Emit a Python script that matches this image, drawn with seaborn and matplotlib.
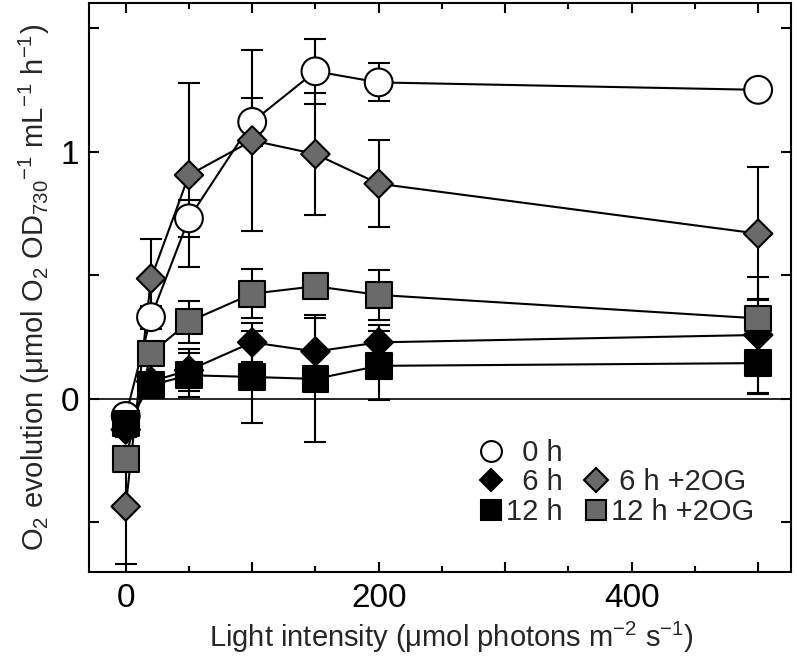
import numpy as np
import pandas as pd
import matplotlib
matplotlib.use('Agg')
import matplotlib.pyplot as plt
from matplotlib.lines import Line2D
from matplotlib.ticker import MultipleLocator, FuncFormatter
import seaborn as sns

# light intensity (umol photons m-2 s-1)
light = [0, 20, 50, 100, 150, 200, 500]

# O2 evolution, mean and error for each condition
o2_0h = [-0.07, 0.33, 0.73, 1.12, 1.325, 1.28, 1.25]
sd_0h = [0.02, 0.047, 0.076, 0.097, 0.132, 0.077, 0.02]
o2_6h = [-0.125, 0.07, 0.115, 0.228, 0.191, 0.228, 0.258]
sd_6h = [0.03, 0.03, 0.085, 0.08, 0.135, 0.07, 0.235]
o2_12h = [-0.10, 0.055, 0.095, 0.088, 0.08, 0.133, 0.144]
sd_12h = [0.03, 0.04, 0.09, 0.187, 0.257, 0.14, 0.125]
o2_6h_og = [-0.436, 0.486, 0.905, 1.045, 0.99, 0.87, 0.668]
sd_6h_og = [0.232, 0.162, 0.373, 0.365, 0.248, 0.175, 0.27]
o2_12h_og = [-0.244, 0.183, 0.312, 0.425, 0.455, 0.42, 0.325]
sd_12h_og = [0.03, 0.03, 0.085, 0.1, 0.03, 0.1, 0.08]

series_names = ['0 h', '6 h', '12 h', '6 h +2OG', '12 h +2OG']
series_vals = [o2_0h, o2_6h, o2_12h, o2_6h_og, o2_12h_og]
series_err = [sd_0h, sd_6h, sd_12h, sd_6h_og, sd_12h_og]

GRAY = '#6a6a6a'
face = {'0 h': 'white', '6 h': 'black', '12 h': 'black',
        '6 h +2OG': GRAY, '12 h +2OG': GRAY}
marker = {'0 h': 'o', '6 h': 'D', '12 h': 's', '6 h +2OG': 'D', '12 h +2OG': 's'}
msize = {'0 h': 20 ** 2, '6 h': 14.5 ** 2, '12 h': 18.5 ** 2,
         '6 h +2OG': 14.5 ** 2, '12 h +2OG': 18.5 ** 2}

rows = []
for name, vals, errs in zip(series_names, series_vals, series_err):
    for x, y, e in zip(light, vals, errs):
        rows.append({'light': x, 'o2': y, 'err': e, 'series': name})
df = pd.DataFrame(rows)

sns.set_theme(style='ticks')
plt.rcParams['font.family'] = ['Liberation Sans', 'DejaVu Sans']
plt.rcParams['mathtext.fontset'] = 'custom'
plt.rcParams['mathtext.rm'] = 'Liberation Sans'
plt.rcParams['mathtext.it'] = 'Liberation Sans:italic'
plt.rcParams['mathtext.default'] = 'regular'

fig = plt.figure(figsize=(7.97, 6.68), dpi=100)
ax = fig.add_axes([0.1117, 0.1442, 0.9925 - 0.1117, 0.995 - 0.1442])

ax.axhline(0, color='black', lw=1.2, zorder=1)

# connecting lines
sns.lineplot(data=df, x='light', y='o2', units='series', estimator=None,
             color='black', lw=1.5, sort=False, legend=False, ax=ax, zorder=2)

# error bars
for name in series_names:
    d = df[df['series'] == name]
    ax.errorbar(d['light'], d['o2'], yerr=d['err'], fmt='none', ecolor='black',
                elinewidth=1.5, capsize=8, capthick=1.5, zorder=3)

# markers
sns.scatterplot(data=df, x='light', y='o2', hue='series', style='series',
                size='series', hue_order=series_names, style_order=series_names,
                size_order=series_names, palette=face, markers=marker,
                sizes=msize, edgecolor='black', linewidth=1.5, legend=False,
                ax=ax, zorder=4)

ax.set_xlim(-29, 526)
ax.set_ylim(-0.7, 1.6)

ax.xaxis.set_major_locator(MultipleLocator(100))
ax.xaxis.set_minor_locator(MultipleLocator(50))
ax.xaxis.set_major_formatter(FuncFormatter(lambda v, p: f'{v:.0f}' if round(v) % 200 == 0 else ''))
ax.yaxis.set_major_locator(MultipleLocator(0.5))
ax.yaxis.set_major_formatter(FuncFormatter(lambda v, p: f'{v:.0f}' if abs(v - round(v)) < 1e-6 else ''))

ax.tick_params(axis='both', which='both', direction='in', top=True, right=True,
               width=1.5, colors='black', labelsize=24)
ax.tick_params(axis='x', which='major', length=7.5, pad=8)
ax.tick_params(axis='x', which='minor', length=4.5)
ax.tick_params(axis='y', which='major', length=7.5, pad=7)
for sp in ax.spines.values():
    sp.set_linewidth(1.5)
    sp.set_color('black')

ax.set_xlabel('Light intensity (μmol photons m$^{-2}$ s$^{-1}$)', fontsize=21, labelpad=4)
ax.xaxis.set_label_coords(0.516, -0.085)
ax.set_ylabel('O$_2$ evolution (μmol O$_2$ OD$_{730}$$^{-1}$ mL$^{-1}$ h$^{-1}$)',
              fontsize=21, labelpad=6)

def handle(name, ms):
    return Line2D([], [], linestyle='none', marker=marker[name], markersize=ms,
                  markerfacecolor=face[name], markeredgecolor='black',
                  markeredgewidth=1.5)

blank = Line2D([], [], linestyle='none')
handles = [handle('0 h', 15), handle('6 h', 11), handle('12 h', 15),
           blank, handle('6 h +2OG', 12), handle('12 h +2OG', 15)]
labels = ['  0 h', '  6 h', '12 h', '', ' 6 h +2OG', '12 h +2OG']
ax.legend(handles, labels, ncol=2, frameon=False, fontsize=21,
          loc='upper left', bbox_to_anchor=(476.1 / 797, 1 - 439 / 668),
          bbox_transform=fig.transFigure, borderpad=0, borderaxespad=0,
          handlelength=1.0, handletextpad=0.02, columnspacing=0.63,
          labelspacing=0.05)

fig.savefig('out.png', dpi=100)
